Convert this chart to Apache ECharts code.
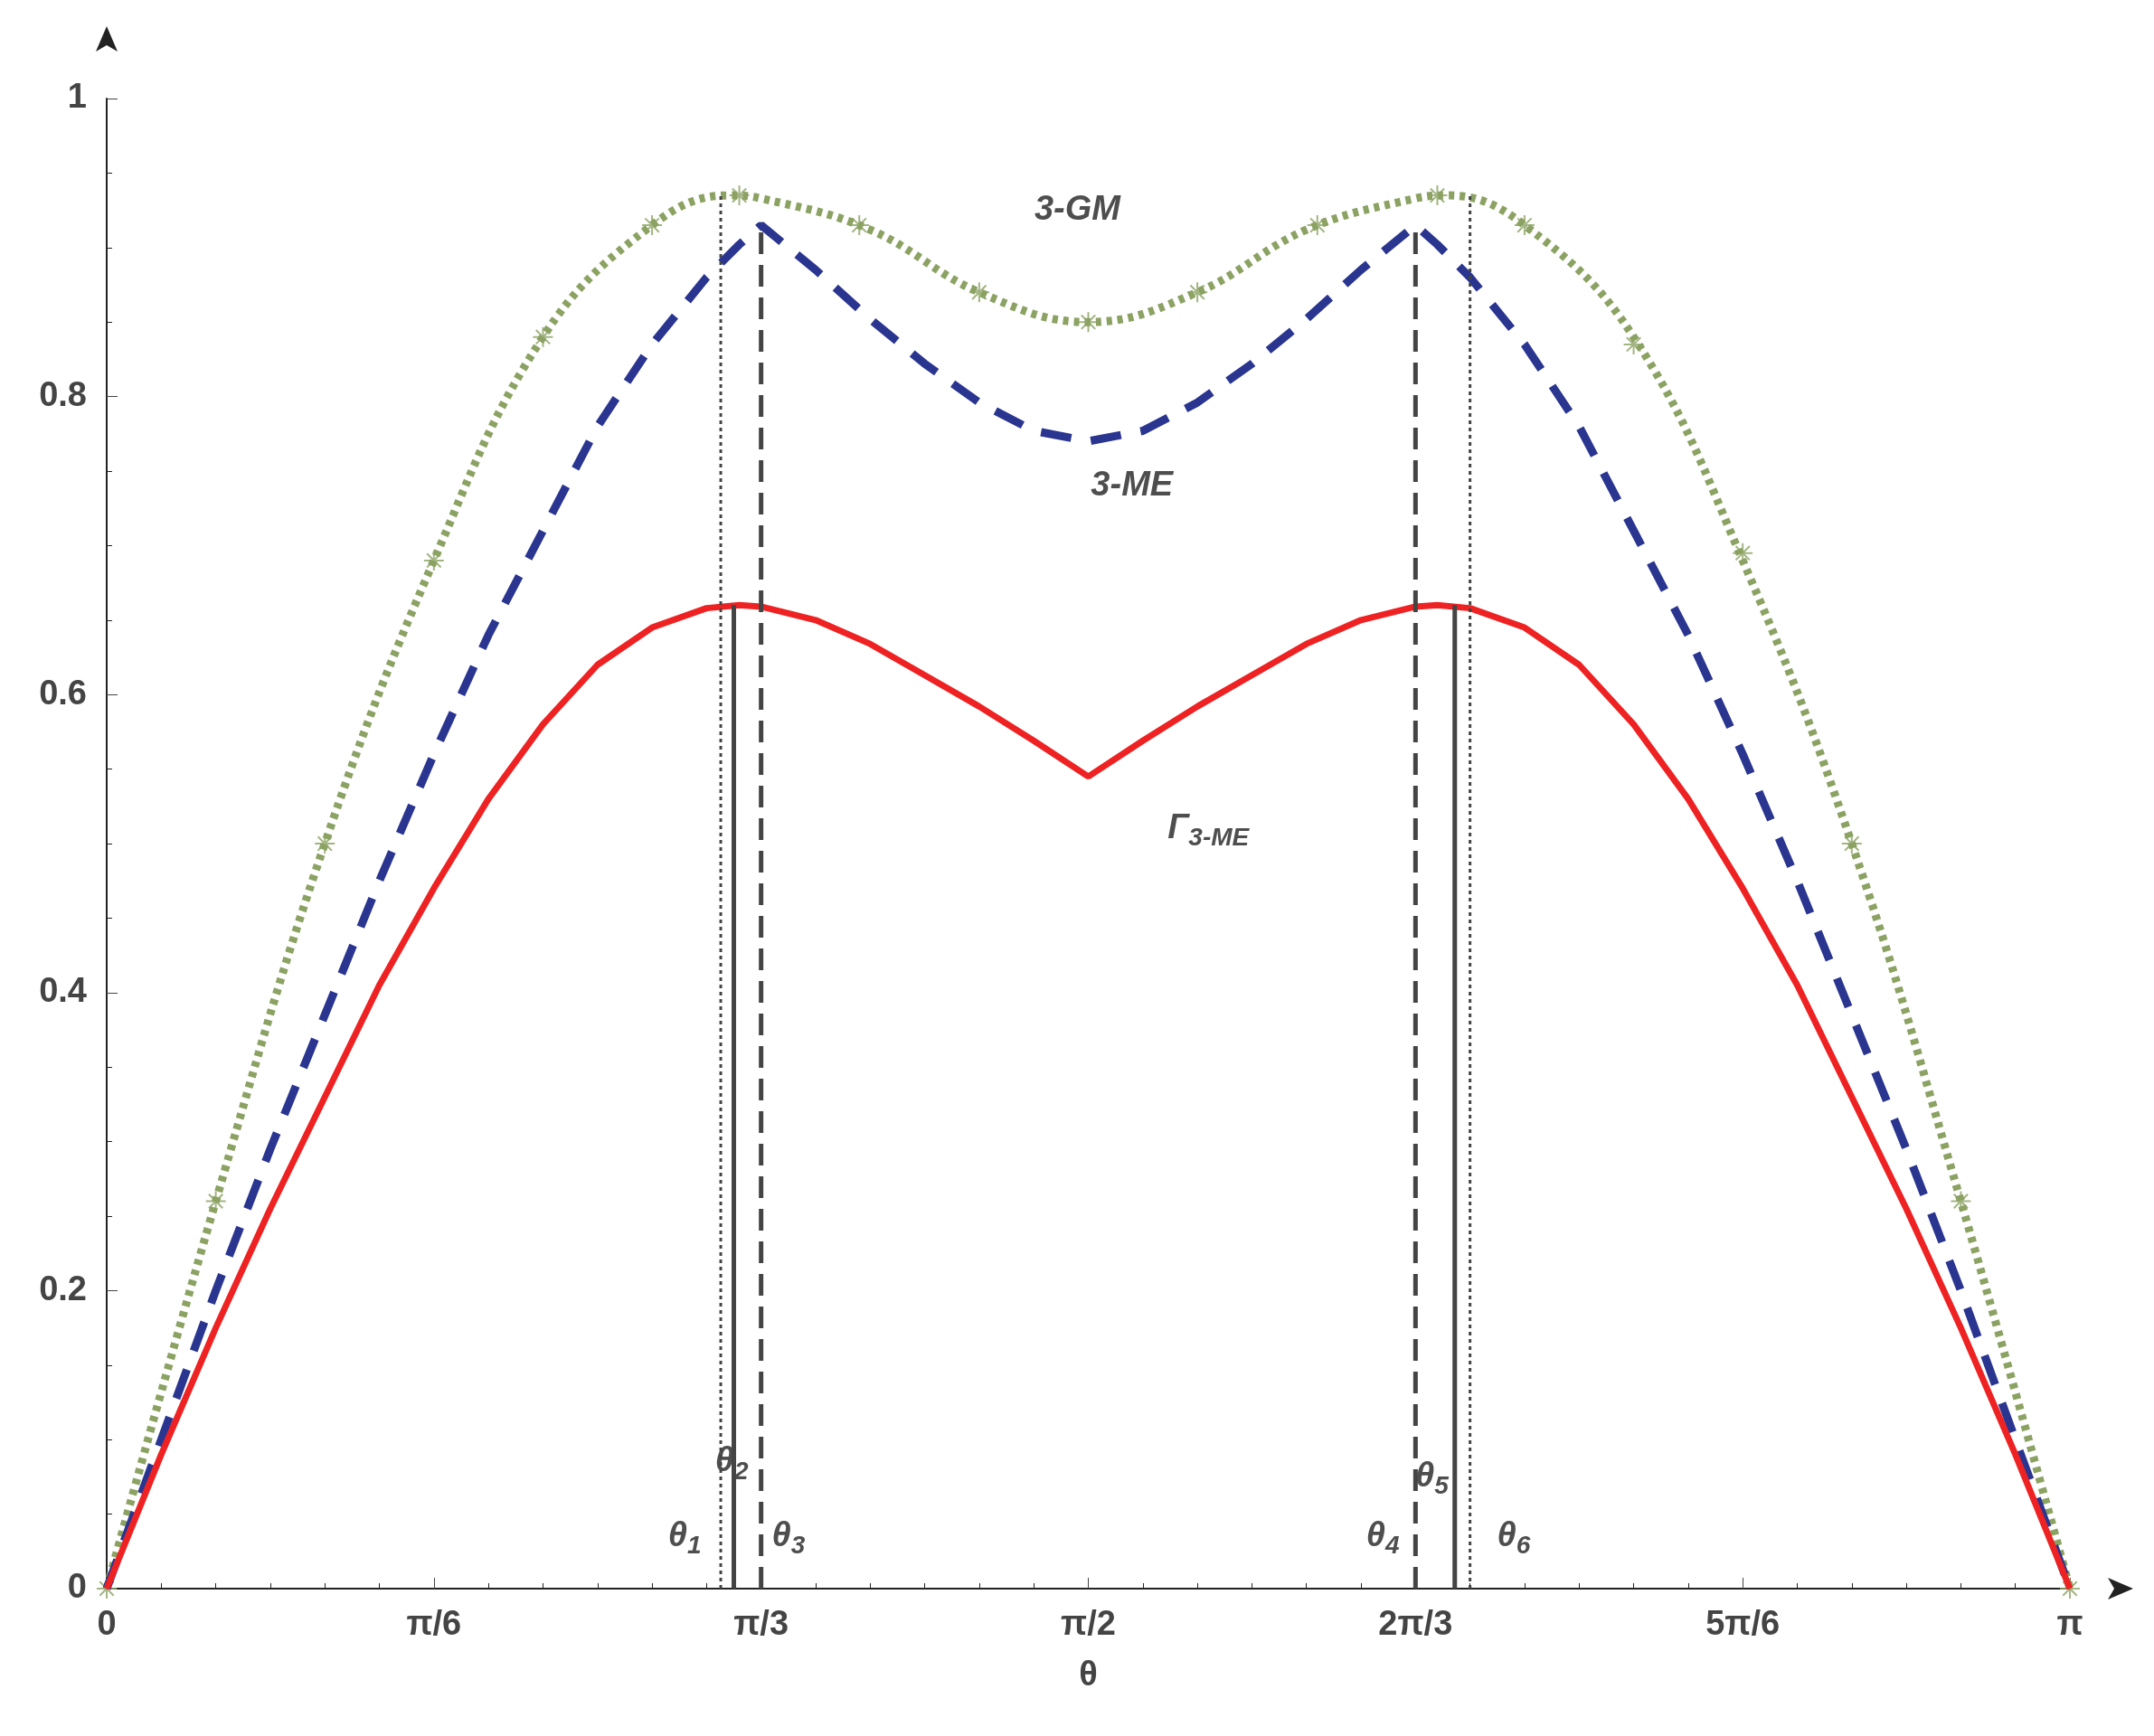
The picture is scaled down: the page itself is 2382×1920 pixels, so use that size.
<!DOCTYPE html>
<html><head><meta charset="utf-8">
<script src="https://cdn.jsdelivr.net/npm/echarts@6/dist/echarts.min.js"></script>
<style>body{margin:0}#c{width:2382px;height:1920px;background:#fff}</style>
</head><body><div id="c"></div>
<script>
// angles in degrees, drawn as multiples of pi
var gmAngles = [0,10,20,30,40,50,57,60,70,80,90,100,110,120,123,130,140,150,160,170,180];
var gm =       [0,0.26,0.5,0.69,0.84,0.915,0.935,0.933,0.912,0.87,0.85,0.87,0.912,0.933,0.935,0.915,0.84,0.69,0.5,0.26,0];
var angles = [0,5,10,15,20,25,30,35,40,45,50,55,58,60,65,70,75,80,85,90,
              95,100,105,110,115,120,122,125,130,135,140,145,150,155,160,165,170,175,180];
var me =    [0,0.1,0.2,0.295,0.385,0.475,0.56,0.64,0.71,0.78,0.835,0.88,0.902,0.915,0.885,0.852,0.822,0.796,0.777,0.77,
             0.777,0.796,0.822,0.852,0.885,0.915,0.902,0.88,0.835,0.78,0.71,0.64,0.56,0.475,0.385,0.295,0.2,0.1,0];
var gamma = [0,0.09,0.175,0.255,0.33,0.405,0.47,0.53,0.58,0.62,0.645,0.658,0.66,0.659,0.65,0.634,0.613,0.592,0.569,0.545,
             0.569,0.592,0.613,0.634,0.65,0.659,0.66,0.658,0.645,0.62,0.58,0.53,0.47,0.405,0.33,0.255,0.175,0.09,0];
var markerAngles = [0,10,20,30,40,50,58,69,80,90,100,111,122,130,140,150,160,170,180];
var markerVals =   [0,0.26,0.5,0.69,0.84,0.915,0.935,0.915,0.87,0.85,0.87,0.915,0.935,0.915,0.835,0.695,0.5,0.26,0];
var xTicks = {0:'0',30:'π/6',60:'π/3',90:'π/2',120:'2π/3',150:'5π/6',180:'π'};
// vertical theta lines: [angle, height, style]
var thetaLines = [[56.3,0.935,'dotted'],[57.5,0.66,'solid'],[60,0.915,'dashed'],
                  [120,0.915,'dashed'],[123.6,0.66,'solid'],[125,0.935,'dotted']];
var texts = [
  [89,0.925,'{i|3-GM}'],[94,0.74,'{i|3-ME}'],[101,0.51,'{i|Γ}{s|3-ME}'],
  [53,0.035,'{i|θ}{s|1}'],[57.3,0.085,'{i|θ}{s|2}'],[62.5,0.035,'{i|θ}{s|3}'],
  [117,0.035,'{i|θ}{s|4}'],[121.5,0.075,'{i|θ}{s|5}'],[129,0.035,'{i|θ}{s|6}']
];
function pairs(xs, ys){ return xs.map(function(x,i){return [x,ys[i]];}); }
var series = [
  {type:'line',smooth:0.4,showSymbol:false,data:pairs(gmAngles,gm),lineStyle:{color:'#8ba263',width:9,type:[6,6]}},
  {type:'scatter',data:pairs(markerAngles,markerVals),symbol:'path://M0,-10L0,10M-10,0L10,0M-7,-7L7,7M-7,7L7,-7',symbolSize:22,itemStyle:{color:'none',borderColor:'#8ba263',borderWidth:2}},
  {type:'line',showSymbol:false,data:pairs(angles,me),lineStyle:{color:'#2a3590',width:9,type:[34,22]}},
  {type:'line',showSymbol:false,data:pairs(angles,gamma),lineStyle:{color:'#ee2222',width:7}}
];
thetaLines.forEach(function(t){
  series.push({type:'line',showSymbol:false,data:[[t[0],0],[t[0],t[1]]],
    lineStyle:{color:'#444',width:t[2]==='dotted'?3:5,type:t[2]==='dashed'?[24,12]:t[2]==='dotted'?[4,4]:'solid'}});
});
series.push({type:'scatter',symbolSize:0,data:texts.map(function(t){return {value:[t[0],t[1]],label:{formatter:t[2]}};}),
  label:{show:true,position:'inside',rich:{i:{fontSize:38,fontStyle:'italic',fontWeight:'bold',color:'#222',fontFamily:'Arial'},
    s:{fontSize:28,fontStyle:'italic',fontWeight:'bold',color:'#222',verticalAlign:'bottom',padding:[22,0,0,0]}}}});
var axisFont = {fontSize:38,fontWeight:'bold',color:'#444',fontFamily:'Arial'};
echarts.init(document.getElementById('c')).setOption({
  animation:false,
  grid:{left:118,right:93,top:109,bottom:163},
  xAxis:{type:'value',min:0,max:180,interval:30,
    axisLine:{lineStyle:{color:'#222',width:2},symbol:['none','arrow'],symbolSize:[18,28],symbolOffset:[0,70]},
    axisTick:{inside:true,length:12,lineStyle:{color:'#444'}},minorTick:{show:true,splitNumber:6,length:6},
    splitLine:{show:false},
    axisLabel:Object.assign({margin:22,formatter:function(v){return xTicks[v]||'';}},axisFont),
    name:'θ',nameLocation:'middle',nameGap:78,nameTextStyle:axisFont},
  yAxis:{type:'value',min:0,max:1,interval:0.2,
    axisLine:{lineStyle:{color:'#222',width:2},symbol:['none','arrow'],symbolSize:[18,28],symbolOffset:[0,80]},
    axisTick:{inside:true,length:12,lineStyle:{color:'#444'}},minorTick:{show:true,splitNumber:4,length:6},
    splitLine:{show:false},
    axisLabel:Object.assign({margin:22},axisFont)},
  series:series
});
</script></body></html>
